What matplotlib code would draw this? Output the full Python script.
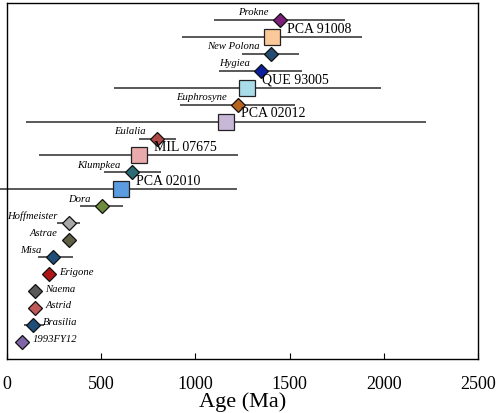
import numpy as np
import matplotlib
matplotlib.use("Agg")
import matplotlib.pyplot as plt

# Nombres (de arriba hacia abajo)
nombres = ["Prokne", "PCA 91008", "New Polona", "Hygiea", "QUE 93005",
           "Euphrosyne", "PCA 02012", "Eulalia", "MIL 07675", "Klumpkea",
           "PCA 02010", "Dora", "Hoffmeister", "Astrae", "Misa", "Erigone",
           "Naema", "Astrid", "Brasilia", "1993FY12"]

# Tipo: 'f' = familia de asteroides (rombo), 'm' = meteorito (cuadrado)
tipos = ["f", "m", "f", "f", "m", "f", "m", "f", "m", "f",
         "m", "f", "f", "f", "f", "f", "f", "f", "f", "f"]

# Edad (Ma) y rango de error
edades = [1449, 1407, 1401, 1348, 1274, 1226, 1162, 796, 701, 663,
          605, 504, 329, 329, 244, 223, 149, 149, 138, 80]
edad_min = [1099, 929, 1247, 1125, 568, 918, 101, 701, 170, 515,
            -37, 387, 265, np.nan, 165, np.nan, np.nan, np.nan, 90, np.nan]
edad_max = [1794, 1884, 1550, 1566, 1985, 1529, 2224, 897, 1226, 817,
            1221, 616, 387, np.nan, 350, np.nan, np.nan, np.nan, 196, np.nan]

colores = ["#7B1F7A", "#FBC89A", "#244C73", "#0D1F9C", "#A8DCE8",
           "#B5651D", "#C8B8D8", "#B04848", "#E8AAAA", "#2A6B76",
           "#5B9BE0", "#6E8B3D", "#A8A8A8", "#5F5F45", "#1F4E79",
           "#B01515", "#595959", "#C05858", "#1F4E79", "#7F65A8"]

# Etiquetas de familia que van a la derecha del rombo
a_la_derecha = ["Erigone", "Naema", "Astrid", "Brasilia", "1993FY12"]

plt.rcParams["font.family"] = ["Liberation Serif", "DejaVu Serif"]

fig = plt.figure(figsize=(4.98, 4.13), dpi=100)
ax = fig.add_axes([0.014, 0.131, 0.946, 0.862])

n = len(nombres)
for i in range(n):
    y = n - 1 - i
    # barra de error
    if not np.isnan(edad_min[i]):
        ax.hlines(y, edad_min[i], edad_max[i], color="#2b2b2b", lw=1.1,
                  zorder=1, clip_on=False)
    if tipos[i] == "m":
        ax.plot(edades[i], y, marker="s", ms=11.5, mfc=colores[i],
                mec="#222222", mew=0.9, zorder=3)
        ax.annotate(nombres[i], (edades[i], y), xytext=(10.5, 5.5),
                    textcoords="offset points", ha="left", va="center",
                    fontsize=10, zorder=4)
    else:
        ax.plot(edades[i], y, marker="D", ms=7.6, mfc=colores[i],
                mec="#111111", mew=0.9, zorder=3)
        if nombres[i] in a_la_derecha:
            ax.annotate(nombres[i], (edades[i], y), xytext=(7.5, 1.5),
                        textcoords="offset points", ha="left", va="center",
                        fontsize=7.7, style="italic", zorder=4)
        else:
            ax.annotate(nombres[i], (edades[i], y), xytext=(-8, 5),
                        textcoords="offset points", ha="right", va="center",
                        fontsize=7.7, style="italic", zorder=4)

ax.set_xlim(0, 2500)
ax.set_ylim(-1, n)
ax.set_xticks([0, 500, 1000, 1500, 2000, 2500])
ax.set_yticks([])
ax.tick_params(axis="x", direction="in", length=4, labelsize=13, pad=12)
ax.set_xlabel("Age (Ma)", fontsize=16, labelpad=0)
for s in ax.spines.values():
    s.set_linewidth(1.0)

fig.savefig("out.png", dpi=100)
